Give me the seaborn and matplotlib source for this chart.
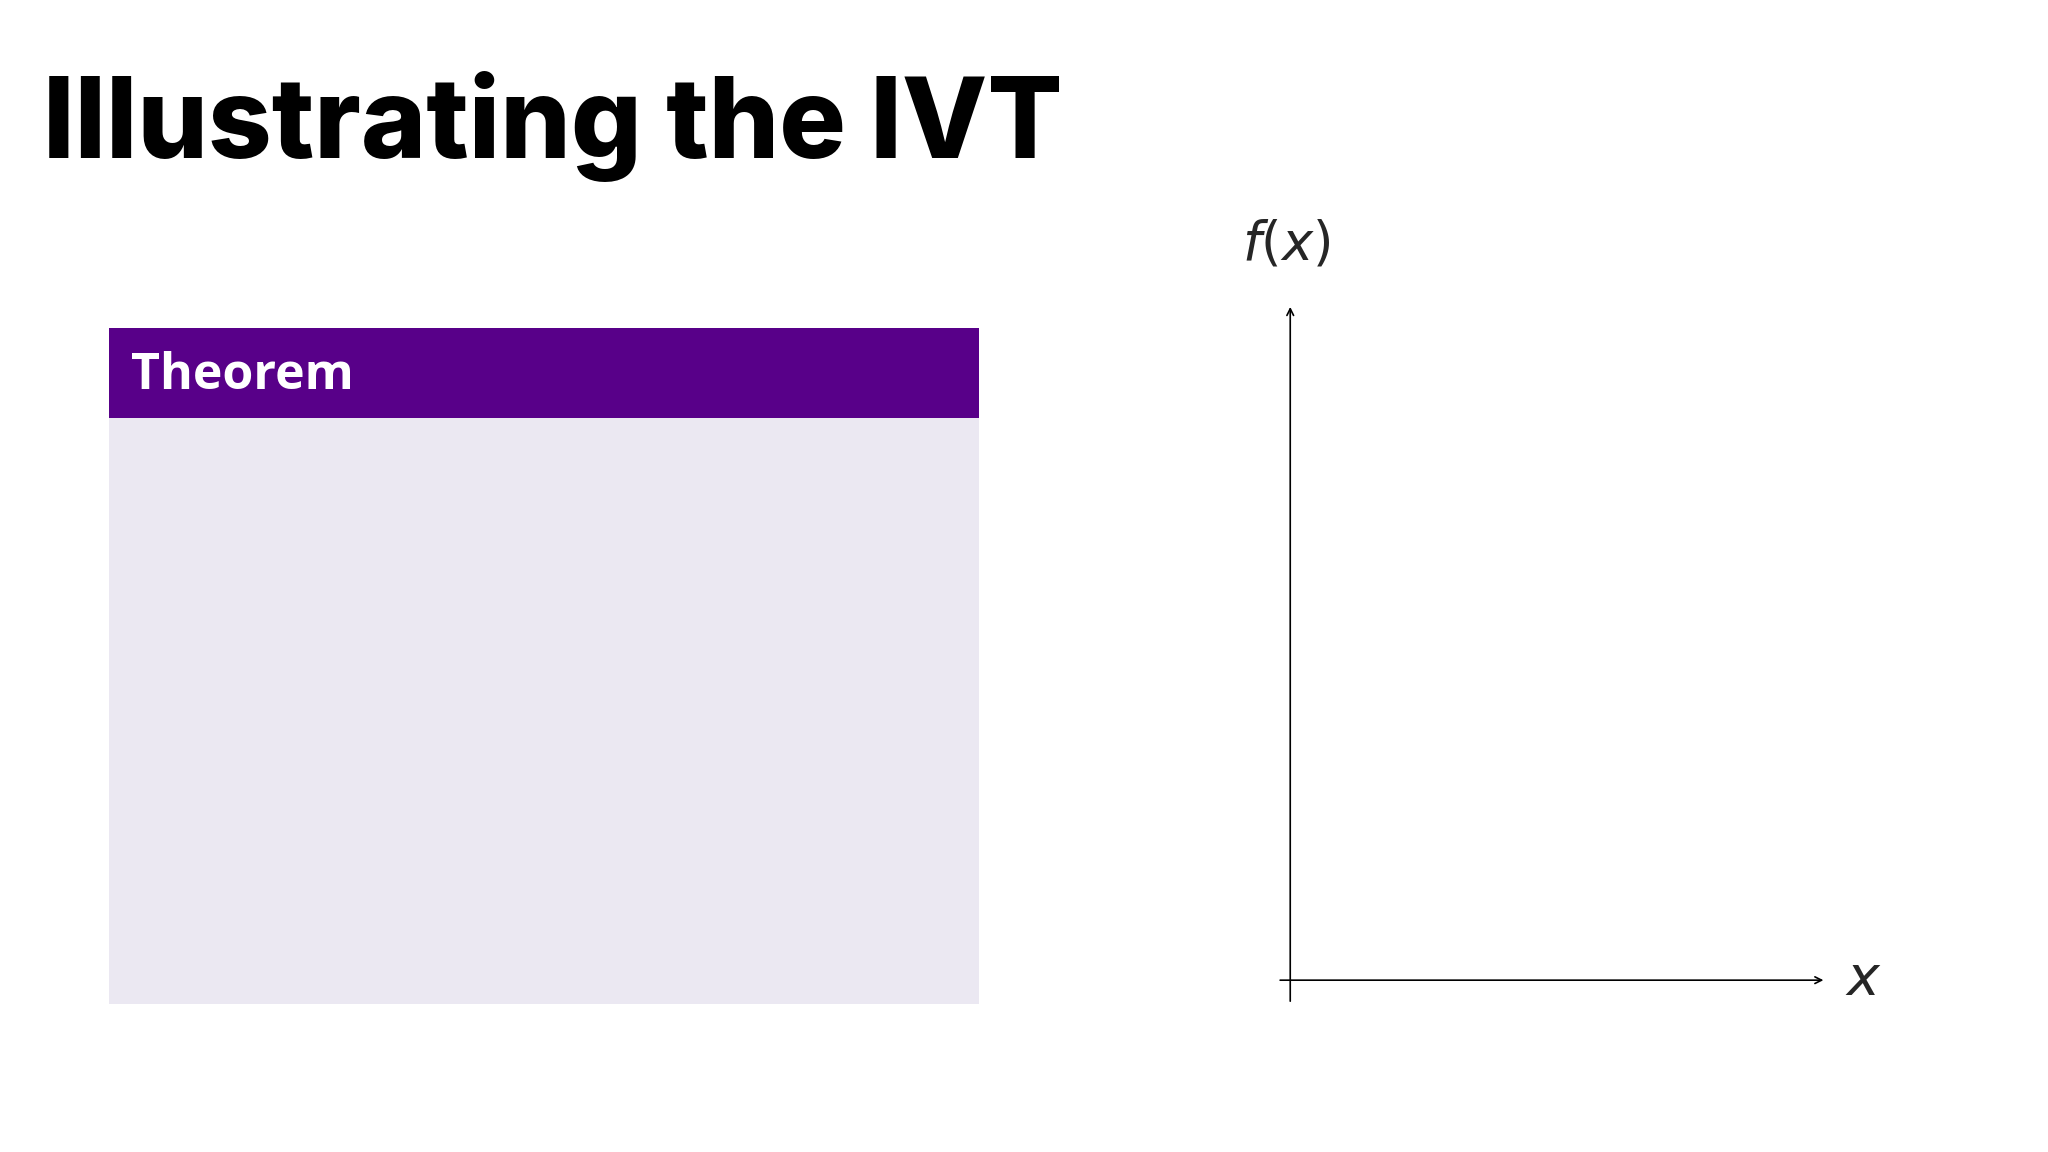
import matplotlib
matplotlib.use("Agg")
import matplotlib.pyplot as plt
import seaborn as sns
from matplotlib.patches import Rectangle

sns.set_theme(style="white")
plt.rcParams['font.family'] = ['DejaVu Sans']

title = "Illustrating the IVT"
box_title = "Theorem"
x_label = "$x$"
y_label = "$f(x)$"

fig = plt.figure(figsize=(20.48, 11.52), dpi=100)
fig.patch.set_facecolor("white")

fig.text(0.021, 0.863, title, fontsize=80, fontweight="heavy", color="black",
         family=["Inter", "DejaVu Sans"], va="baseline", ha="left")

# Theorem box
fig.patches.append(Rectangle((0.0534, 0.1285), 0.4245, 0.5085, transform=fig.transFigure,
                             facecolor="#ebe8f2", edgecolor="none"))
fig.patches.append(Rectangle((0.0534, 0.637), 0.4245, 0.078, transform=fig.transFigure,
                             facecolor="#580089", edgecolor="none"))
fig.text(0.064, 0.674, box_title, fontsize=36, fontweight="bold", color="white",
         family=["Open Sans", "DejaVu Sans"], va="center", ha="left")

# Axes with arrows
ax = fig.add_axes([0.6237, 0.1285, 0.268, 0.6075])
ax.set_axis_off()
ax.set_xlim(0, 1)
ax.set_ylim(0, 1)
ox, oy = 0.0235, 0.034
ax.annotate("", xy=(1.0, oy), xytext=(0.0, oy),
            arrowprops=dict(arrowstyle="->", color="black", lw=1.2))
ax.annotate("", xy=(ox, 1.0), xytext=(ox, 0.0),
            arrowprops=dict(arrowstyle="->", color="black", lw=1.2))
fig.text(0.910, 0.149, x_label, fontsize=40, va="center", ha="center")
fig.text(0.628, 0.788, y_label, fontsize=38, va="center", ha="center")

fig.savefig("out.png", dpi=100, facecolor="white")
